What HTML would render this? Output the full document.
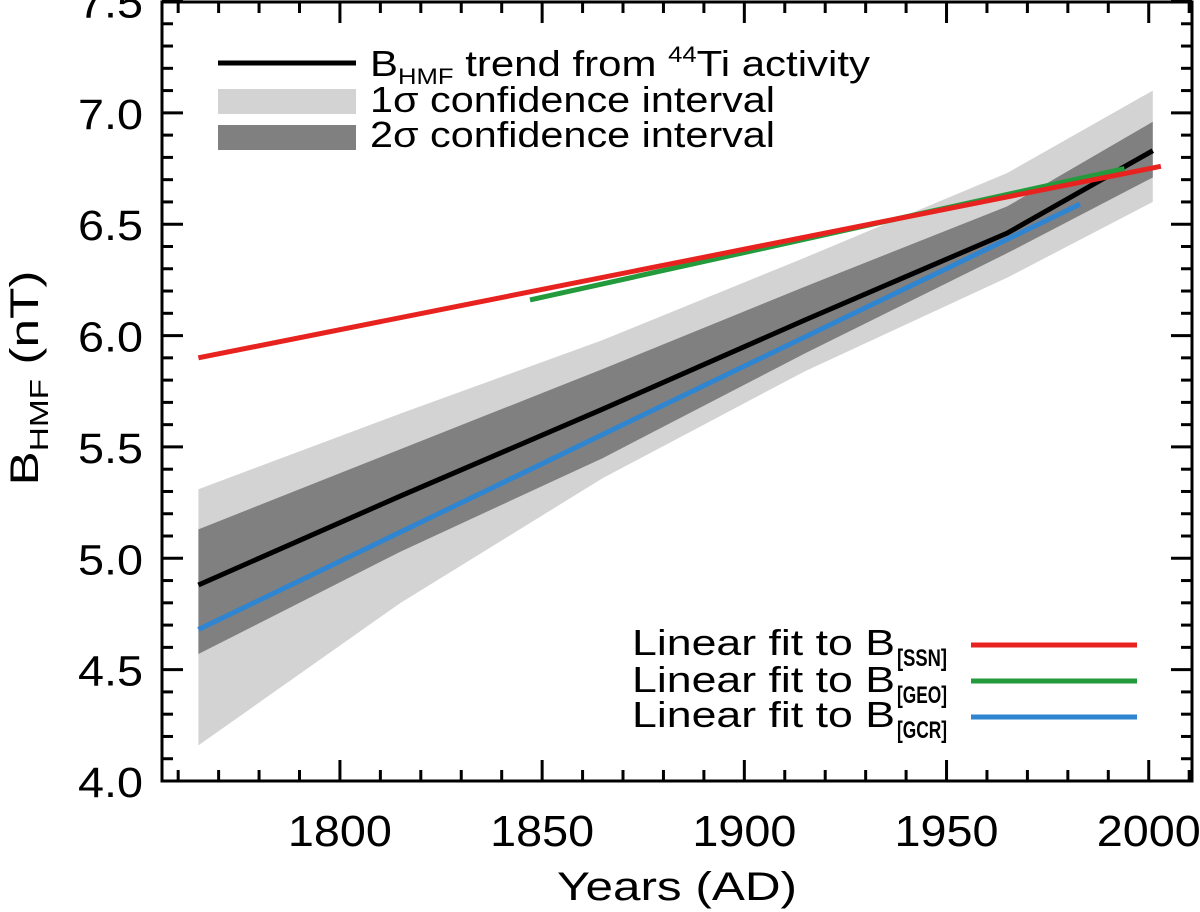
<!DOCTYPE html>
<html><head><meta charset="utf-8"><style>
html,body{margin:0;padding:0;background:#fff;}
svg{display:block;font-family:"Liberation Sans","DejaVu Sans",sans-serif;}
</style></head><body>
<svg id="chart" width="1200" height="912" viewBox="0 0 1200 912" xmlns="http://www.w3.org/2000/svg">
<g id="bands"></g>
<g id="lines"></g>
<g id="axes"></g>
<g id="legend">
  <line x1="218" y1="63" x2="356" y2="63" stroke="#000" stroke-width="5"/>
  <rect x="218" y="89" width="138" height="25" fill="#d3d3d3"/>
  <rect x="218" y="125" width="138" height="25" fill="#808080"/>
  <text x="370" y="76" font-size="36" textLength="500" lengthAdjust="spacingAndGlyphs">B<tspan font-size="22" dy="8">HMF</tspan><tspan dy="-8"> trend from </tspan><tspan font-size="22" dy="-14">44</tspan><tspan dy="14">Ti activity</tspan></text>
  <text x="370" y="112" font-size="36" textLength="405" lengthAdjust="spacingAndGlyphs">1σ confidence interval</text>
  <text x="370" y="147" font-size="36" textLength="405" lengthAdjust="spacingAndGlyphs">2σ confidence interval</text>
  <g>
    <text x="632" y="655" font-size="36" textLength="263" lengthAdjust="spacingAndGlyphs">Linear fit to B</text>
    <text x="897" y="666" font-size="24" font-weight="bold" textLength="50" lengthAdjust="spacingAndGlyphs">[SSN]</text>
  </g>
  <g>
    <text x="632" y="692" font-size="36" textLength="263" lengthAdjust="spacingAndGlyphs">Linear fit to B</text>
    <text x="897" y="703" font-size="24" font-weight="bold" textLength="50" lengthAdjust="spacingAndGlyphs">[GEO]</text>
  </g>
  <g>
    <text x="632" y="727" font-size="36" textLength="263" lengthAdjust="spacingAndGlyphs">Linear fit to B</text>
    <text x="897" y="738" font-size="24" font-weight="bold" textLength="50" lengthAdjust="spacingAndGlyphs">[GCR]</text>
  </g>
  <line x1="971" y1="645" x2="1137" y2="645" stroke="#e8231f" stroke-width="5"/>
  <line x1="971" y1="681" x2="1137" y2="681" stroke="#239a3c" stroke-width="5"/>
  <line x1="971" y1="717" x2="1137" y2="717" stroke="#2f85d0" stroke-width="5"/>
</g>
<text x="677" y="900" font-size="40" text-anchor="middle" textLength="240" lengthAdjust="spacingAndGlyphs">Years (AD)</text>
<text transform="translate(38,378) rotate(-90)" font-size="40" text-anchor="middle" textLength="215" lengthAdjust="spacingAndGlyphs">B<tspan font-size="26" dy="10">HMF</tspan><tspan dy="-10"> (nT)</tspan></text>
</svg>
<script>
const bandYears = [1765, 1815, 1865, 1915, 1965, 2001];
const trend = [4.88, 5.28, 5.67, 6.07, 6.46, 6.83];
const sigma1Upper = [5.31, 5.65, 5.98, 6.35, 6.73, 7.10];
const sigma1Lower = [4.16, 4.80, 5.36, 5.84, 6.26, 6.60];
const sigma2Upper = [5.13, 5.49, 5.85, 6.22, 6.58, 6.96];
const sigma2Lower = [4.57, 5.03, 5.45, 5.92, 6.37, 6.71];
const ssnYears = [1765, 2003];
const ssnValues = [5.90, 6.76];
const geoYears = [1847, 1994];
const geoValues = [6.16, 6.75];
const gcrYears = [1765, 1983];
const gcrValues = [4.68, 6.59];
const xTickLabels = [1800, 1850, 1900, 1950, 2000];
const yTickLabels = ["4.0", "4.5", "5.0", "5.5", "6.0", "6.5", "7.0", "7.5"];

const L = 162, R = 1192, T = 2, B = 781;
const X0 = 1756, X1 = 2010.7, Y0 = 4.0, Y1 = 7.5;
function xs(v){ return L + (v - X0) / (X1 - X0) * (R - L); }
function ys(v){ return B - (v - Y0) / (Y1 - Y0) * (B - 1.5); }
const NS = "http://www.w3.org/2000/svg";
function mk(tag, parent){ const e = document.createElementNS(NS, tag); parent.appendChild(e); return e; }

const bands = document.getElementById('bands');
function band(up, lo, fill, name){
  const pts = bandYears.map((y,i)=>xs(y)+','+ys(up[i]))
    .concat(bandYears.slice().reverse().map((y,j)=>{ const i = bandYears.length-1-j; return xs(y)+','+ys(lo[i]); }));
  const p = mk('polygon', bands);
  p.setAttribute('points', pts.join(' '));
  p.setAttribute('fill', fill);
  
  
}
band(sigma1Upper, sigma1Lower, '#d3d3d3', 'band-1sigma');
band(sigma2Upper, sigma2Lower, '#808080', 'band-2sigma');

const lines = document.getElementById('lines');
function line(xsArr, vals, color, w, name){
  const p = mk('polyline', lines);
  p.setAttribute('points', xsArr.map((y,i)=>xs(y)+','+ys(vals[i])).join(' '));
  p.setAttribute('fill', 'none');
  p.setAttribute('stroke', color);
  p.setAttribute('stroke-width', w);
  p.setAttribute('stroke-linejoin', 'round');
  
  
}
line(bandYears, trend, '#000', 5, 'trend-line');
line(gcrYears, gcrValues, '#2f85d0', 5, 'gcr-fit-line');
line(geoYears, geoValues, '#239a3c', 5, 'geo-fit-line');
line(ssnYears, ssnValues, '#e8231f', 5, 'ssn-fit-line');

const axes = document.getElementById('axes');
const frame = mk('rect', axes);
frame.setAttribute('x', L); frame.setAttribute('y', T);
frame.setAttribute('width', R-L); frame.setAttribute('height', B-T);
frame.setAttribute('fill', 'none'); frame.setAttribute('stroke', '#000'); frame.setAttribute('stroke-width', 3);


for (let yr = 1760; yr <= 2010; yr += 10){
  const major = yr % 50 === 0, len = major ? 21 : 11, x = xs(yr);
  [[B, B-len],[T, T+len]].forEach(([a,b])=>{
    const t = mk('line', axes);
    t.setAttribute('x1', x); t.setAttribute('x2', x); t.setAttribute('y1', a); t.setAttribute('y2', b);
    t.setAttribute('stroke', '#000'); t.setAttribute('stroke-width', 3);
    
    
  });
}
xTickLabels.forEach(v=>{
  const t = mk('text', axes);
  t.setAttribute('x', xs(v)); t.setAttribute('y', 846);
  t.setAttribute('font-size', 44); t.setAttribute('text-anchor', 'middle');
  t.setAttribute('textLength', 104); t.setAttribute('lengthAdjust', 'spacingAndGlyphs');
  t.textContent = v;
  
  
});
for (let k = 0; k <= 35; k++){
  const v = 4.0 + k*0.1, major = k % 5 === 0, len = major ? 21 : 11, y = ys(v);
  [[L, L+len],[R, R-len]].forEach(([a,b])=>{
    const t = mk('line', axes);
    t.setAttribute('y1', y); t.setAttribute('y2', y); t.setAttribute('x1', a); t.setAttribute('x2', b);
    t.setAttribute('stroke', '#000'); t.setAttribute('stroke-width', 3);
    
    
  });
}
yTickLabels.forEach(s=>{
  const t = mk('text', axes);
  t.setAttribute('x', 143); t.setAttribute('y', ys(parseFloat(s)) + 16);
  t.setAttribute('font-size', 43); t.setAttribute('text-anchor', 'end');
  t.setAttribute('textLength', 65); t.setAttribute('lengthAdjust', 'spacingAndGlyphs');
  t.textContent = s;
  
  
});
</script>
</body></html>
